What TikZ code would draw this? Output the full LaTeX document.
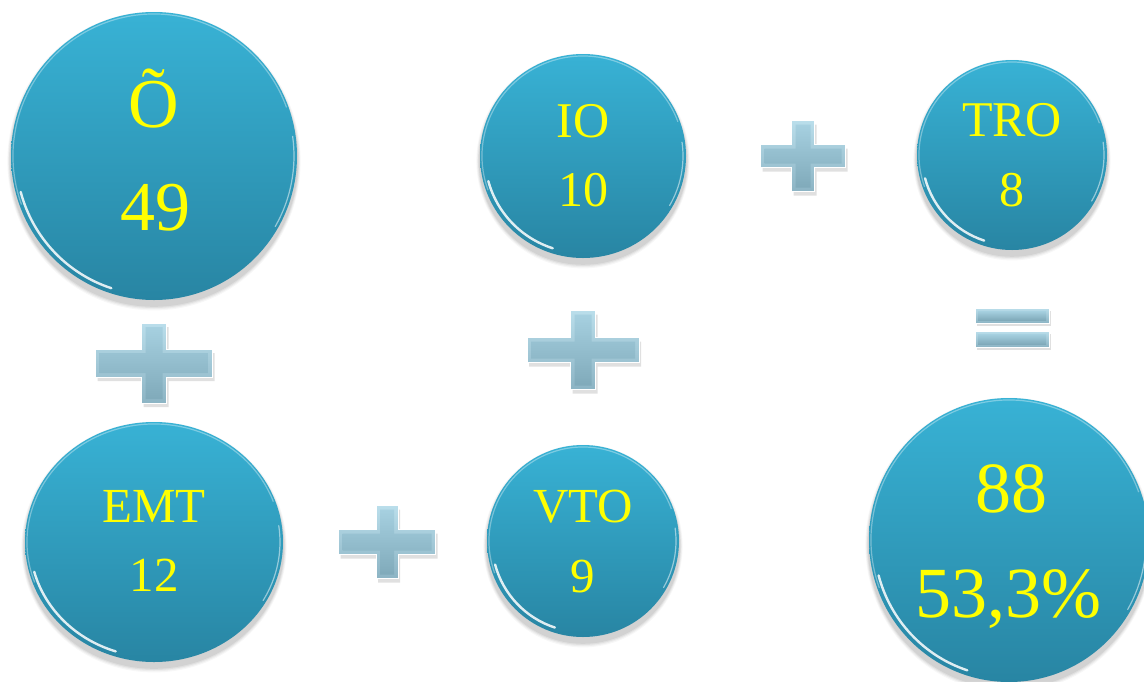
\documentclass[tikz,border=0pt]{standalone}
\usepackage{fontspec}
\setmainfont{Liberation Serif}
\newfontfamily\numfont{Liberation Serif}
\usetikzlibrary{shapes.geometric}
\definecolor{btop}{RGB}{56,178,213}
\definecolor{bbot}{RGB}{40,133,163}
\definecolor{ptop}{RGB}{186,222,235}
\definecolor{pbot}{RGB}{140,180,196}
\definecolor{pftop}{RGB}{166,208,224}
\definecolor{pfbot}{RGB}{128,170,186}
\definecolor{txt}{RGB}{255,255,0}
\tikzset{
  bubble/.style={ellipse, inner sep=0pt, top color=btop, bottom color=bbot, draw=none},
  numtext/.style={text=txt, anchor=base, inner sep=0pt},
}
% bubble: name, cx, cy, rx, ry
\newcommand\mybubble[5]{%
  \foreach \k/\op in {9/0.03,7/0.04,5/0.05,3/0.06}{%
    \fill[black,opacity=\op] (#2,#3+5) ellipse ({#4+\k*0.4} and {#5+\k*0.6});}
  \node[bubble, minimum width=#4*2pt, minimum height=#5*2pt] (#1) at (#2,#3) {};
  \draw[white, opacity=0.35, line width=1.2pt]
    ([shift={(#2,#3)}]-200:{#4-2} and {#5-2}) arc[start angle=-200, end angle=-20, x radius=#4-2, y radius=#5-2];
  \draw[white, opacity=0.85, line width=2.4pt, line cap=round]
    ([shift={(#2,#3)}]108:{#4-5} and {#5-5}) arc[start angle=108, end angle=165, x radius=#4-5, y radius=#5-5];
  \draw[white, opacity=0.5, line width=1.2pt, line cap=round]
    ([shift={(#2,#3)}]-8:{#4-3} and {#5-3}) arc[start angle=-8, end angle=30, x radius=#4-3, y radius=#5-3];
}
% plus: cx, cy, w, h, tv, th
\newcommand\myplus[6]{%
  \fill[black,opacity=0.12] ({#1-#5/2+2},{#2-#4/2+4}) -- ({#1+#5/2+2},{#2-#4/2+4}) -- ({#1+#5/2+2},{#2-#6/2+4}) -- ({#1+#3/2+2},{#2-#6/2+4}) -- ({#1+#3/2+2},{#2+#6/2+4}) -- ({#1+#5/2+2},{#2+#6/2+4}) -- ({#1+#5/2+2},{#2+#4/2+4}) -- ({#1-#5/2+2},{#2+#4/2+4}) -- ({#1-#5/2+2},{#2+#6/2+4}) -- ({#1-#3/2+2},{#2+#6/2+4}) -- ({#1-#3/2+2},{#2-#6/2+4}) -- ({#1-#5/2+2},{#2-#6/2+4}) -- cycle;
  \shade[top color=ptop, bottom color=pbot, draw=white, line width=0.8pt] ({#1-#5/2},{#2-#4/2}) -- ({#1+#5/2},{#2-#4/2}) -- ({#1+#5/2},{#2-#6/2}) -- ({#1+#3/2},{#2-#6/2}) -- ({#1+#3/2},{#2+#6/2}) -- ({#1+#5/2},{#2+#6/2}) -- ({#1+#5/2},{#2+#4/2}) -- ({#1-#5/2},{#2+#4/2}) -- ({#1-#5/2},{#2+#6/2}) -- ({#1-#3/2},{#2+#6/2}) -- ({#1-#3/2},{#2-#6/2}) -- ({#1-#5/2},{#2-#6/2}) -- cycle;
  \shade[top color=pftop, bottom color=pfbot] ({#1-#5/2+4},{#2-#4/2+4}) -- ({#1+#5/2-4},{#2-#4/2+4}) -- ({#1+#5/2-4},{#2-#6/2+4}) -- ({#1+#3/2-4},{#2-#6/2+4}) -- ({#1+#3/2-4},{#2+#6/2-4}) -- ({#1+#5/2-4},{#2+#6/2-4}) -- ({#1+#5/2-4},{#2+#4/2-4}) -- ({#1-#5/2+4},{#2+#4/2-4}) -- ({#1-#5/2+4},{#2+#6/2-4}) -- ({#1-#3/2+4},{#2+#6/2-4}) -- ({#1-#3/2+4},{#2-#6/2+4}) -- ({#1-#5/2+4},{#2-#6/2+4}) -- cycle;
}
% bar: x1, y1, x2, y2
\newcommand\mybar[4]{%
  \fill[black,opacity=0.12] (#1+2,#2+3) rectangle (#3+2,#4+3);
  \shade[top color=ptop, bottom color=pbot, draw=white, line width=0.8pt] (#1,#2) rectangle (#3,#4);
  \shade[top color=pftop, bottom color=pfbot] (#1+3,#2+3) rectangle (#3-3,#4-3);
}
\begin{document}
\begin{tikzpicture}[x=1pt,y=-1pt]
\useasboundingbox (0,0) rectangle (1144,681);
\fill[white] (0,0) rectangle (1144,681);

\mybubble{o}{154}{156}{143}{144}
\mybubble{io}{583}{156}{103}{102}
\mybubble{tro}{1012}{155}{95}{95}
\mybubble{emt}{154}{542}{129}{120}
\mybubble{vto}{583}{541}{96}{96}
\mybubble{tot}{1009}{540}{140}{142}

\myplus{154}{363}{117}{80}{25}{28}
\myplus{583}{350}{112}{79}{25}{25}
\myplus{803}{156}{85}{71}{23}{23}
\myplus{387}{542}{97}{73}{22}{25}
\mybar{975}{308}{1049}{323}
\mybar{975}{331}{1049}{347}

\node[numtext, font=\numfont\fontsize{70}{70}\selectfont] (o1) at (154,127) {Õ};
\node[numtext, font=\numfont\fontsize{70}{70}\selectfont] (o2) at (155,230) {49};
\node[numtext, font=\numfont\fontsize{50}{50}\selectfont] (io1) at (583,137) {IO};
\node[numtext, font=\numfont\fontsize{50}{50}\selectfont] (io2) at (583,206) {10};
\node[numtext, font=\numfont\fontsize{50}{50}\selectfont] (tro1) at (1012,136) {TRO};
\node[numtext, font=\numfont\fontsize{50}{50}\selectfont] (tro2) at (1012,206) {8};
\node[numtext, font=\numfont\fontsize{49}{49}\selectfont] (emt1) at (154,522) {EMT};
\node[numtext, font=\numfont\fontsize{49}{49}\selectfont] (emt2) at (154,591) {12};
\node[numtext, font=\numfont\fontsize{49}{49}\selectfont] (vto1) at (583,522) {VTO};
\node[numtext, font=\numfont\fontsize{49}{49}\selectfont] (vto2) at (583,592) {9};
\node[numtext, font=\numfont\fontsize{72}{72}\selectfont] (tot1) at (1011,512) {88};
\node[numtext, font=\numfont\fontsize{72}{72}\selectfont] (tot2) at (1008,617) {53,3\%};
\end{tikzpicture}
\end{document}
